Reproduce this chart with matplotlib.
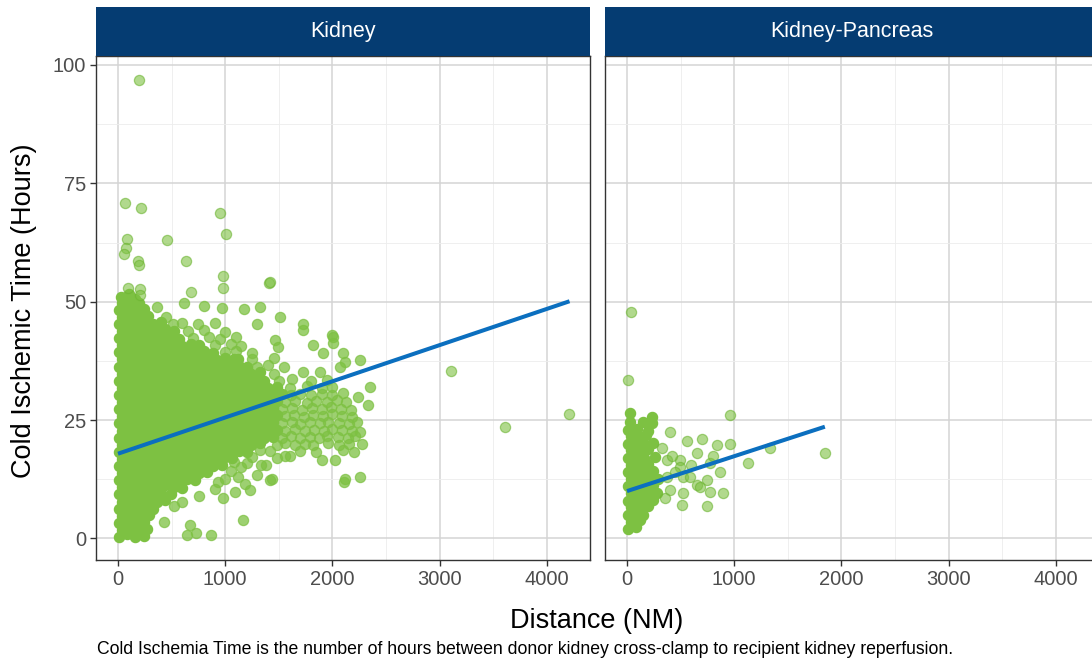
import matplotlib
matplotlib.use('Agg')
import matplotlib.pyplot as plt
from matplotlib.patches import Rectangle
from matplotlib.ticker import MultipleLocator, FixedLocator

plt.rcParams['font.family'] = ['Liberation Sans', 'DejaVu Sans']

panels = ['Kidney', 'Kidney-Pancreas']
x_ticks = [0, 1000, 2000, 3000, 4000]
y_ticks = [0, 25, 50, 75, 100]
x_label = 'Distance (NM)'
y_label = 'Cold Ischemic Time (Hours)'
caption = ('Cold Ischemia Time is the number of hours between donor kidney '
           'cross-clamp to recipient kidney reperfusion.')

# ---- Kidney: dense core (distance NM, cold ischemic time h) ----
kidney_core = [
    (5,0.4),(80,0.9),(160,0.3),(240,0.6),
    (40,1.8),(120,2.1),(200,1.6),(275,2.0),
    (5,3.3),(85,3.6),(165,3.2),(245,3.5),
    (40,4.8),(120,5.1),(200,4.7),(290,5.0),
    (5,6.3),(85,6.6),(165,6.2),(245,6.5),(330,6.3),
    (40,7.8),(120,8.1),(200,7.7),(280,8.0),(360,7.8),(440,8.2),
    (5,9.3),(85,9.6),(165,9.2),(245,9.5),(325,9.3),(405,9.7),(490,9.4),
    (40,10.8),(120,11.1),(200,10.7),(280,11.0),(360,10.8),(440,11.2),(520,10.9),(600,10.7),
    (5,12.3),(85,12.6),(165,12.2),(245,12.5),(325,12.3),(405,12.7),(485,12.4),(565,12.2),(645,12.6),(720,12.3),
    (40,13.8),(120,14.1),(200,13.7),(280,14.0),(360,13.8),(440,14.2),(520,13.9),(600,13.7),(680,14.1),(760,13.8),(830,14.0),
    (5,15.3),(85,15.6),(165,15.2),(245,15.5),(325,15.3),(405,15.7),(485,15.4),(565,15.2),(645,15.6),(725,15.3),(805,15.5),(885,15.2),(970,15.6),
    (40,16.8),(120,17.1),(200,16.7),(280,17.0),(360,16.8),(440,17.2),(520,16.9),(600,16.7),(680,17.1),(760,16.8),(840,17.0),(920,16.7),(1000,17.1),(1060,16.9),
    (5,18.3),(85,18.6),(165,18.2),(245,18.5),(325,18.3),(405,18.7),(485,18.4),(565,18.2),(645,18.6),(725,18.3),(805,18.5),(885,18.2),(965,18.6),(1045,18.3),(1125,18.5),(1205,18.2),
    (40,19.8),(120,20.1),(200,19.7),(280,20.0),(360,19.8),(440,20.2),(520,19.9),(600,19.7),(680,20.1),(760,19.8),(840,20.0),(920,19.7),(1000,20.1),(1080,19.8),(1160,20.0),(1240,19.7),(1320,20.1),
    (5,21.3),(85,21.6),(165,21.2),(245,21.5),(325,21.3),(405,21.7),(485,21.4),(565,21.2),(645,21.6),(725,21.3),(805,21.5),(885,21.2),(965,21.6),(1045,21.3),(1125,21.5),(1205,21.2),(1285,21.6),(1365,21.3),(1445,21.5),
    (40,22.8),(120,23.1),(200,22.7),(280,23.0),(360,22.8),(440,23.2),(520,22.9),(600,22.7),(680,23.1),(760,22.8),(840,23.0),(920,22.7),(1000,23.1),(1080,22.8),(1160,23.0),(1240,22.7),(1320,23.1),(1400,22.8),(1480,23.0),
    (5,24.3),(85,24.6),(165,24.2),(245,24.5),(325,24.3),(405,24.7),(485,24.4),(565,24.2),(645,24.6),(725,24.3),(805,24.5),(885,24.2),(965,24.6),(1045,24.3),(1125,24.5),(1205,24.2),(1285,24.6),(1365,24.3),(1445,24.5),
    (40,25.8),(120,26.1),(200,25.7),(280,26.0),(360,25.8),(440,26.2),(520,25.9),(600,25.7),(680,26.1),(760,25.8),(840,26.0),(920,25.7),(1000,26.1),(1080,25.8),(1160,26.0),(1240,25.7),(1320,26.1),(1400,25.8),(1480,26.0),
    (5,27.3),(85,27.6),(165,27.2),(245,27.5),(325,27.3),(405,27.7),(485,27.4),(565,27.2),(645,27.6),(725,27.3),(805,27.5),(885,27.2),(965,27.6),(1045,27.3),(1125,27.5),(1205,27.2),(1285,27.6),(1365,27.3),(1445,27.5),
    (40,28.8),(120,29.1),(200,28.7),(280,29.0),(360,28.8),(440,29.2),(520,28.9),(600,28.7),(680,29.1),(760,28.8),(840,29.0),(920,28.7),(1000,29.1),(1080,28.8),(1160,29.0),(1240,28.7),(1320,29.1),(1400,28.8),(1480,29.0),
    (5,30.3),(85,30.6),(165,30.2),(245,30.5),(325,30.3),(405,30.7),(485,30.4),(565,30.2),(645,30.6),(725,30.3),(805,30.5),(885,30.2),(965,30.6),(1045,30.3),(1125,30.5),(1205,30.2),(1285,30.6),(1365,30.3),(1445,30.5),(1525,30.5),
    (40,31.8),(120,32.1),(200,31.7),(280,32.0),(360,31.8),(440,32.2),(520,31.9),(600,31.7),(680,32.1),(760,31.8),(840,32.0),(920,31.7),(1000,32.1),(1080,31.8),(1160,32.0),(1240,31.7),(1320,32.1),(1400,31.8),(1480,32.0),
    (5,33.3),(85,33.6),(165,33.2),(245,33.5),(325,33.3),(405,33.7),(485,33.4),(565,33.2),(645,33.6),(725,33.3),(805,33.5),(885,33.2),(965,33.6),(1045,33.3),(1125,33.5),(1205,33.2),(1285,33.6),(1365,33.3),
    (40,34.8),(120,35.1),(200,34.7),(280,35.0),(360,34.8),(440,35.2),(520,34.9),(600,34.7),(680,35.1),(760,34.8),(840,35.0),(920,34.7),(1000,35.1),(1080,34.8),(1160,35.0),(1240,34.7),(1320,35.1),
    (5,36.3),(85,36.6),(165,36.2),(245,36.5),(325,36.3),(405,36.7),(485,36.4),(565,36.2),(645,36.6),(725,36.3),(805,36.5),(885,36.2),(965,36.6),(1045,36.3),(1125,36.5),(1205,36.2),
    (40,37.8),(120,38.1),(200,37.7),(280,38.0),(360,37.8),(440,38.2),(520,37.9),(600,37.7),(680,38.1),(760,37.8),(840,38.0),(920,37.7),(1000,38.1),(1080,37.8),(1120,38.0),
    (5,39.3),(85,39.6),(165,39.2),(245,39.5),(325,39.3),(405,39.7),(485,39.4),(565,39.2),(645,39.6),(725,39.3),(805,39.5),(885,39.2),
    (40,40.8),(120,41.1),(200,40.7),(280,41.0),(360,40.8),(440,41.2),(520,40.9),(600,40.7),(680,41.1),(760,40.8),
    (5,42.3),(85,42.6),(165,42.2),(245,42.5),(325,42.3),(405,42.7),(485,42.4),(565,42.2),
    (40,43.8),(120,44.1),(200,43.7),(280,44.0),(360,43.8),(440,44.2),(520,43.9),
    (5,45.3),(85,45.6),(165,45.2),(245,45.5),(325,45.3),(405,45.7),
    (40,46.8),(120,47.1),(200,46.7),(280,47.0),
    (5,48.3),(85,48.6),(165,48.2),(245,48.5),
    (40,49.8),(120,50.1),(200,49.7),
    (30,51.0),(100,51.6),(160,50.6),
]

# ---- Kidney: looser cluster 1300-2350 NM and scattered points ----
kidney_cluster = [
    (1320,18.6),(1420,18.5),(1560,17.5),(1700,18.4),(1850,18.2),(2100,18.6),(2200,18.3),
    (1480,19.8),(1560,20.1),(1650,19.8),(1740,20.0),(1820,19.7),(1960,20.1),(2060,19.8),(2150,20.0),(2273,19.9),
    (1530,21.3),(1610,21.6),(1700,21.2),(1790,21.5),(1870,21.3),(1950,21.7),(2050,21.4),(2140,21.2),(2210,21.6),
    (1560,22.8),(1650,23.1),(1740,22.7),(1830,23.0),(1920,22.8),(2000,23.2),(2090,22.9),(2180,22.7),(2257,22.5),
    (1530,24.3),(1620,24.6),(1700,24.2),(1790,24.5),(1880,24.3),(1960,24.7),(2060,24.4),(2150,24.2),(2230,24.6),
    (1560,25.8),(1640,26.1),(1730,25.7),(1820,26.0),(1910,25.8),(2000,26.2),(2090,25.9),(2180,25.7),
    (1530,27.3),(1620,27.6),(1720,27.2),(1810,27.5),(1900,27.3),(1990,27.7),(2080,27.4),(2170,27.2),
    (1560,28.8),(1650,29.1),(1760,28.7),(1850,29.0),(1950,28.8),(2040,29.2),(2130,28.9),(2335,28.2),
    (1610,30.3),(1700,30.6),(1800,30.2),(1900,30.5),(2000,30.3),(2100,30.7),(2242,29.9),
    (1600,31.8),(1760,32.1),(1900,31.7),(2000,32.0),(2351,32.0),
    (1500,33.3),(1620,33.6),(1800,33.2),(1950,33.5),
    (1450,34.8),(1729,35.2),(1884,35.2),(2071,36.2),
    (1300,36.3),(1400,36.6),(1550,36.2),
    (1250,37.8),(1450,38.1),(2118,37.3),(2257,37.7),
    (1000,39.3),(1100,39.6),(1250,39.2),(1915,39.1),(2102,39.1),
    (900,40.8),(1050,41.1),(1150,40.7),(1496,40.5),(1822,40.8),(2009,41.2),
    (700,42.3),(850,42.6),(950,42.2),(1100,42.5),(1465,41.9),(1993,42.9),
    (650,43.8),(800,44.1),(1000,43.7),(1723,44.0),(2003,42.6),
    (515,45.3),(600,45.6),(750,45.2),(900,45.5),(1300,45.3),(1723,45.4),
    (450,46.8),(1511,46.8),
    (364,48.8),(616,49.7),(802,49.0),(970,48.6),(1175,48.4),(1325,48.8),
    (640,0.7),(728,1.2),(864,0.7),(672,2.8),(430,3.5),(1163,3.9),(520,6.8),(600,7.6),
    (1091,9.9),(760,9.0),(900,10.5),(980,8.5),(1231,10.2),(1180,11.5),(1000,12.5),(1120,13.0),
    (1418,12.3),(1434,12.6),(2108,12.0),(2118,12.5),(930,12.0),(2257,13.0),(1050,14.2),(1300,13.5),
    (1150,15.0),(1380,15.6),(1200,16.0),(1080,16.2),(1330,15.5),(1480,16.9),(1900,16.6),
    (2024,16.6),(1250,17.2),(1600,17.5),
]

kidney_outliers = [
    (196,96.9),(65,70.8),(215,69.9),(955,68.7),(1007,64.2),(84,63.2),(457,63.0),
    (75,61.3),(56,60.0),(187,58.7),(196,57.7),(634,58.5),(980,55.4),(980,53.0),
    (1405,54.0),(1420,54.1),(93,52.8),(205,52.6),(205,51.4),(681,52.0),
    (3103,35.3),(3610,23.6),(4204,26.3),
]

# ---- Kidney-Pancreas ----
kp_core = [
    (10,2.0),(80,2.4),(40,3.5),(120,3.8),(5,5.0),(80,5.3),(150,4.9),
    (40,6.6),(120,6.4),(200,6.8),(5,8.0),(80,8.3),(160,7.9),(240,8.2),
    (40,9.6),(120,9.4),(200,9.8),(280,9.5),(5,11.0),(80,11.3),(160,10.9),(240,11.2),
    (40,12.6),(120,12.4),(200,12.8),(290,12.5),(5,14.0),(80,14.3),(160,13.9),(240,14.2),
    (40,15.6),(120,15.4),(200,15.8),(5,17.0),(80,17.3),(160,16.9),(260,17.2),
    (40,18.6),(120,18.4),(200,18.8),(5,20.0),(80,20.3),(160,19.9),(240,20.2),
    (40,21.6),(120,21.4),(180,21.8),(10,23.0),(90,23.2),(200,22.8),
    (30,24.5),(150,24.7),(230,24.3),(28,26.4),(230,25.7),
]
kp_outliers = [
    (34,47.9),(6,33.4),(960,26.1),(401,22.5),(836,19.7),(960,19.9),(494,16.6),
    (650,18.0),(774,15.9),(867,14.1),(525,13.0),(650,11.3),(743,12.3),(774,9.9),
    (895,9.6),(510,7.1),(743,6.9),(401,10.2),(370,13.0),(1333,19.0),(1847,18.0),
    (1131,16.0),(370,16.6),(494,15.1),(587,13.0),(680,10.9),(525,9.5),(330,19.0),
    (450,14.0),(560,20.5),(600,15.5),(700,21.0),(420,17.5),(350,8.5),(800,17.5),
]

# Fitted linear trend lines (endpoints)
kidney_fit_x = [0, 4210]
kidney_fit_y = [17.9, 50.1]
kp_fit_x = [0, 1845]
kp_fit_y = [10.0, 23.6]

point_color = '#7DC142'
ring_color = '#6CB431'
line_color = '#0B6FBF'
strip_color = '#053C72'

W, H = 1092, 663
fig = plt.figure(figsize=(W / 100, H / 100), dpi=100)

panel_top, panel_bottom = 56, 560
pw = 494
lefts = [96, 605]
axes = []
for lx in lefts:
    ax = fig.add_axes([lx / W, 1 - panel_bottom / H, pw / W, (panel_bottom - panel_top) / H])
    axes.append(ax)

# (point group, alpha, edge colour) per panel; dense groups are heavily overplotted
panel_layers = [
    [(kidney_core, 1.0, point_color), (kidney_cluster, 0.75, point_color),
     (kidney_outliers, 0.6, ring_color)],
    [(kp_core, 1.0, point_color), (kp_outliers, 0.6, ring_color)],
]
fits = [(kidney_fit_x, kidney_fit_y), (kp_fit_x, kp_fit_y)]

for i, (ax, name, layers, (fx, fy)) in enumerate(zip(axes, panels, panel_layers, fits)):
    ax.set_xlim(-205, 4401)
    ax.set_ylim(-4.55, 101.9)
    ax.xaxis.set_major_locator(FixedLocator(x_ticks))
    ax.yaxis.set_major_locator(FixedLocator(y_ticks))
    ax.xaxis.set_minor_locator(MultipleLocator(500))
    ax.yaxis.set_minor_locator(MultipleLocator(12.5))
    ax.grid(which='major', color='#D4D4D4', linewidth=1.1, zorder=0)
    ax.grid(which='minor', color='#EDEDED', linewidth=0.6, zorder=0)
    ax.set_axisbelow(True)
    for pts, a, ec in layers:
        xs = [p[0] for p in pts]
        ys = [p[1] for p in pts]
        ax.scatter(xs, ys, s=54, c=point_color, alpha=a, edgecolors=ec,
                   linewidths=0.9, zorder=2)
    ax.plot(fx, fy, color=line_color, linewidth=2.9, solid_capstyle='butt', zorder=3)
    for sp in ax.spines.values():
        sp.set_color('#333333')
        sp.set_linewidth(1.0)
    ax.tick_params(which='major', length=4, width=1, color='#333333',
                   labelsize=14.5, labelcolor='#4D4D4D', pad=3)
    ax.tick_params(which='minor', length=0)
    if i == 1:
        ax.tick_params(axis='y', which='both', left=False, labelleft=False)
    strip_h = 49 / (panel_bottom - panel_top)
    ax.add_patch(Rectangle((0, 1.0), 1, strip_h, transform=ax.transAxes,
                           facecolor=strip_color, edgecolor='none', clip_on=False, zorder=5))
    ax.text(0.5, 1.0 + strip_h / 2, name, transform=ax.transAxes, ha='center',
            va='center', color='white', fontsize=15.5, zorder=6)

fig.text(24 / W, 1 - 311 / H, y_label, rotation=90, ha='center', va='center',
         fontsize=19.5, color='black')
fig.text(597 / W, 1 - 621 / H, x_label, ha='center', va='center',
         fontsize=19.5, color='black')
fig.text(97 / W, 1 - 649 / H, caption, ha='left', va='center',
         fontsize=12.7, color='black')

fig.savefig('out.png', dpi=100)
